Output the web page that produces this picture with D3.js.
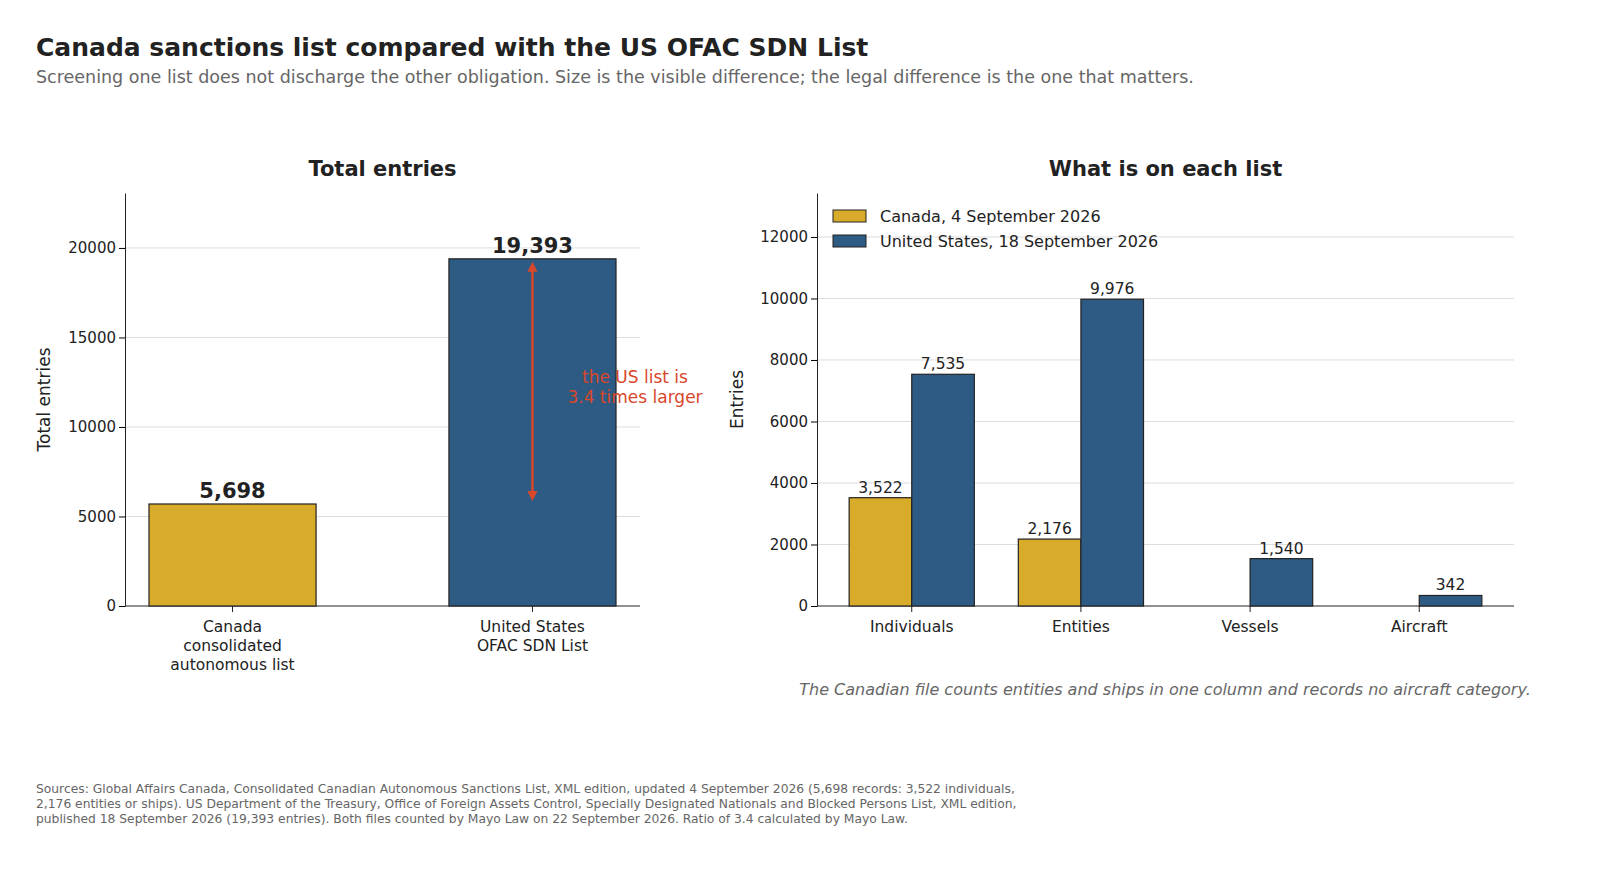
<!DOCTYPE html>
<html><head><meta charset="utf-8">
<script src="https://cdn.jsdelivr.net/npm/d3@7"></script>
<style>body{margin:0;background:#fff;font-family:"DejaVu Sans",sans-serif}</style>
</head><body><svg id="c" width="1600" height="879"></svg>
<script>
var totalLabels = [["Canada", "consolidated", "autonomous list"], ["United States", "OFAC SDN List"]];
var totalValues = [5698, 19393];
var categories = ["Individuals", "Entities", "Vessels", "Aircraft"];
var canadaValues = [3522, 2176, null, null];
var usValues = [7535, 9976, 1540, 342];
var seriesNames = ["Canada, 4 September 2026", "United States, 18 September 2026"];
var leftTicks = [0, 5000, 10000, 15000, 20000];
var rightTicks = [0, 2000, 4000, 6000, 8000, 10000, 12000];

var gold = "#D9AB2B", blue = "#2E5B84", red = "#D9472B", ink = "#222";
var fmt = d3.format(",");
var svg = d3.select("#c");

svg.append("text").attr("x", 36).attr("y", 56).attr("font-size", 25).attr("font-weight", "bold").attr("fill", ink)
  .text("Canada sanctions list compared with the US OFAC SDN List");
svg.append("text").attr("x", 36).attr("y", 83).attr("font-size", 17.5).attr("fill", "#666")
  .text("Screening one list does not discharge the other obligation. Size is the visible difference; the legal difference is the one that matters.");

function frame(x0, x1, y, ticks, title, ylab, ylabX) {
  var g = svg.append("g");
  g.selectAll(".grid").data(ticks.slice(1)).enter().append("line")
    .attr("x1", x0).attr("x2", x1).attr("y1", d => y(d)).attr("y2", d => y(d))
    .attr("stroke", "#ddd").attr("stroke-width", 1);
  var ax = g.append("g").attr("transform", `translate(${x0},0)`)
    .call(d3.axisLeft(y).tickValues(ticks).tickFormat(d3.format("d")).tickSizeOuter(0));
  ax.selectAll("text").attr("font-size", 15).attr("fill", ink).attr("font-family", "DejaVu Sans");
  ax.select(".domain").attr("stroke", ink);
  g.append("line").attr("x1", x0).attr("x2", x1).attr("y1", y(0)).attr("y2", y(0)).attr("stroke", ink);
  g.append("text").attr("x", (x0 + x1) / 2).attr("y", 176).attr("text-anchor", "middle")
    .attr("font-size", 21).attr("font-weight", "bold").attr("fill", ink).text(title);
  g.append("text").attr("transform", `translate(${ylabX},${(y.range()[0] + y.range()[1]) / 2}) rotate(-90)`)
    .attr("text-anchor", "middle").attr("font-size", 17).attr("fill", ink).text(ylab);
  return g;
}

// left panel
var yL = d3.scaleLinear().domain([0, 23070]).range([606, 193]);
var xL = d3.scaleBand().domain([0, 1]).range([125, 640]).paddingInner(0.443).paddingOuter(0.08);
var gl = frame(125, 640, yL, leftTicks, "Total entries", "Total entries", 50);
gl.selectAll("rect.b").data(totalValues).enter().append("rect")
  .attr("x", (d, i) => xL(i)).attr("width", xL.bandwidth())
  .attr("y", d => yL(d)).attr("height", d => yL(0) - yL(d))
  .attr("fill", (d, i) => i ? blue : gold).attr("stroke", ink).attr("stroke-width", 1.2);
gl.selectAll("text.v").data(totalValues).enter().append("text")
  .attr("x", (d, i) => xL(i) + xL.bandwidth() / 2).attr("y", d => yL(d) - 6)
  .attr("text-anchor", "middle").attr("font-size", 21).attr("font-weight", "bold").attr("fill", ink).text(d => fmt(d));
totalLabels.forEach(function (lines, i) {
  var cx = xL(i) + xL.bandwidth() / 2;
  lines.forEach(function (s, j) {
    gl.append("text").attr("x", cx).attr("y", 632 + j * 19).attr("text-anchor", "middle")
      .attr("font-size", 15.5).attr("fill", ink).text(s);
  });
  gl.append("line").attr("x1", cx).attr("x2", cx).attr("y1", 606).attr("y2", 612).attr("stroke", ink);
});
var ax_ = xL(1) + xL.bandwidth() / 2;
svg.append("defs").append("marker").attr("id", "ah").attr("viewBox", "0 0 10 10").attr("refX", 5).attr("refY", 5)
  .attr("markerWidth", 4).attr("markerHeight", 5).attr("orient", "auto-start-reverse")
  .append("path").attr("d", "M0,0L10,5L0,10z").attr("fill", red);
gl.append("line").attr("x1", ax_).attr("x2", ax_).attr("y1", yL(totalValues[1]) + 8).attr("y2", yL(totalValues[0]) - 8)
  .attr("stroke", red).attr("stroke-width", 2.5).attr("marker-start", "url(#ah)").attr("marker-end", "url(#ah)");
["the US list is", "3.4 times larger"].forEach(function (s, j) {
  gl.append("text").attr("x", 635).attr("y", 383 + j * 20).attr("text-anchor", "middle")
    .attr("font-size", 17).attr("fill", red).text(s);
});

// right panel
var yR = d3.scaleLinear().domain([0, 13430]).range([606, 193]);
var x0 = d3.scaleBand().domain(categories).range([817, 1514]).paddingInner(0.26).paddingOuter(0.19);
var x1 = d3.scaleBand().domain([0, 1]).range([0, x0.bandwidth()]);
var gr = frame(817, 1514, yR, rightTicks, "What is on each list", "Entries", 743);
[canadaValues, usValues].forEach(function (vals, s) {
  var data = vals.map((v, i) => ({ c: categories[i], v: v })).filter(d => d.v != null);
  gr.selectAll("rect.s" + s).data(data).enter().append("rect")
    .attr("x", d => x0(d.c) + x1(s)).attr("width", x1.bandwidth())
    .attr("y", d => yR(d.v)).attr("height", d => yR(0) - yR(d.v))
    .attr("fill", s ? blue : gold).attr("stroke", ink).attr("stroke-width", 1.2);
  gr.selectAll("text.s" + s).data(data).enter().append("text")
    .attr("x", d => x0(d.c) + x1(s) + x1.bandwidth() / 2).attr("y", d => yR(d.v) - 5)
    .attr("text-anchor", "middle").attr("font-size", 15.5).attr("fill", ink).text(d => fmt(d.v));
});
categories.forEach(function (c) {
  var cx = x0(c) + x0.bandwidth() / 2;
  gr.append("line").attr("x1", cx).attr("x2", cx).attr("y1", 606).attr("y2", 612).attr("stroke", ink);
  gr.append("text").attr("x", cx).attr("y", 632).attr("text-anchor", "middle").attr("font-size", 15.5).attr("fill", ink).text(c);
});
seriesNames.forEach(function (n, i) {
  gr.append("rect").attr("x", 833).attr("y", 210 + i * 25).attr("width", 33).attr("height", 12)
    .attr("fill", i ? blue : gold).attr("stroke", ink).attr("stroke-width", 1);
  gr.append("text").attr("x", 880).attr("y", 222 + i * 25).attr("font-size", 16).attr("fill", ink).text(n);
});
svg.append("text").attr("x", 1165).attr("y", 695).attr("text-anchor", "middle").attr("font-size", 16)
  .attr("font-style", "italic").attr("fill", "#666")
  .text("The Canadian file counts entities and ships in one column and records no aircraft category.");

["Sources: Global Affairs Canada, Consolidated Canadian Autonomous Sanctions List, XML edition, updated 4 September 2026 (5,698 records: 3,522 individuals,",
 "2,176 entities or ships). US Department of the Treasury, Office of Foreign Assets Control, Specially Designated Nationals and Blocked Persons List, XML edition,",
 "published 18 September 2026 (19,393 entries). Both files counted by Mayo Law on 22 September 2026. Ratio of 3.4 calculated by Mayo Law."
].forEach(function (s, j) {
  svg.append("text").attr("x", 36).attr("y", 793 + j * 15).attr("font-size", 12.3).attr("fill", "#666").text(s);
});
</script></body></html>
